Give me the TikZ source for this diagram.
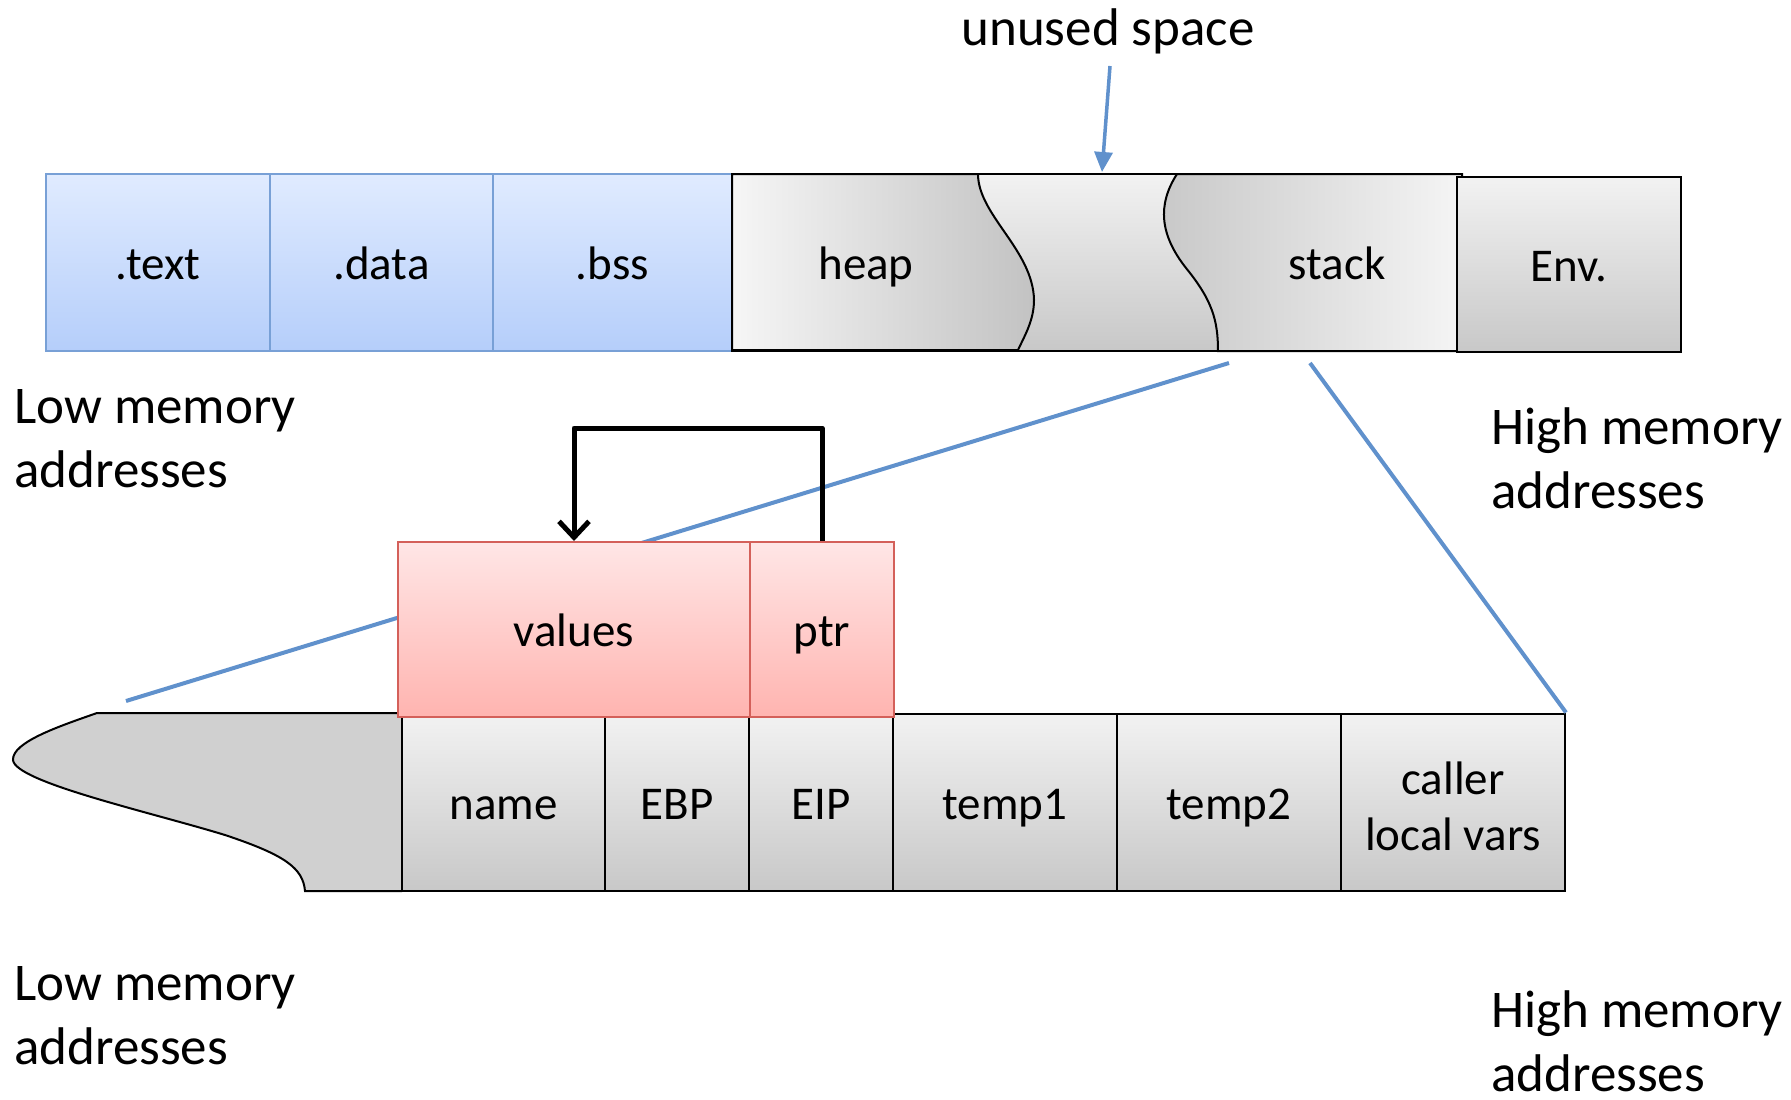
\documentclass[tikz,border=0pt]{standalone}
\usepackage{fontspec}
\setmainfont{Carlito}
\usetikzlibrary{arrows.meta}

\definecolor{blueT}{RGB}{224,235,255}
\definecolor{blueB}{RGB}{181,206,250}
\definecolor{blueBd}{RGB}{120,160,214}
\definecolor{redT}{RGB}{255,230,230}
\definecolor{redB}{RGB}{255,180,176}
\definecolor{redBd}{RGB}{212,96,90}
\definecolor{grayT}{RGB}{242,242,242}
\definecolor{grayB}{RGB}{200,200,200}
\definecolor{grayM}{RGB}{208,208,208}
\definecolor{zoomblue}{RGB}{96,145,204}

\begin{document}
\begin{tikzpicture}[x=1pt,y=-1pt,
  lbl/.style={font=\fontsize{53}{64}\selectfont, align=left, anchor=base west, inner sep=0pt},
  boxtxt/.style={font=\fontsize{47}{56}\selectfont, inner sep=0pt, text height=42pt, text depth=8pt},
  seg/.style={rectangle, inner sep=0pt, minimum height=177pt, font=\fontsize{47}{56}\selectfont, text height=42pt, text depth=8pt},
  blueseg/.style={seg, draw=blueBd, line width=1.5pt, top color=blueT, bottom color=blueB},
  grayseg/.style={seg, draw=black, line width=2pt, top color=grayT, bottom color=grayB},
  redseg/.style={seg, minimum height=175pt, draw=redBd, line width=2pt, top color=redT, bottom color=redB},
  zoomline/.style={draw=zoomblue, line width=4pt},
  ptrarrow/.style={draw=black, line width=5pt, line join=round, -{Straight Barb[length=16pt,width=30pt,line width=5pt]}}
]
\useasboundingbox (0,0) rectangle (1791,1100);

% ---- process memory layout, top row ----
\node[blueseg, minimum width=224pt] (text) at (158,262.5) {.text};
\node[blueseg, minimum width=223pt] (data) at (381.5,262.5) {.data};
\node[blueseg, minimum width=239pt] (bss)  at (612.5,262.5) {.bss};

% unused space between heap and stack
\shade[top color=grayT, bottom color=grayB] (732,174) rectangle (1462,350);
% heap grows to the right
\shade[left color=grayT!70!white, right color=grayB!110!white, draw=black, line width=2pt]
  (732,174) -- (978,174)
  .. controls (978,215) and (1033,250) .. (1034,300)
  .. controls (1034,320) and (1025,335) .. (1018,350)
  -- (732,350) -- cycle;
% stack grows to the left
\shade[left color=grayB, right color=grayT!80!white, draw=black, line width=2pt]
  (1462,174) -- (1177,174)
  .. controls (1157,205) and (1160,235) .. (1186,268)
  .. controls (1212,300) and (1218,320) .. (1218,351)
  -- (1462,351) -- cycle;
\draw[black, line width=2pt] (732,174) rectangle (1462,351);
\node[boxtxt] (heap) at (866,262) {heap};
\node[boxtxt] (stack) at (1337,262) {stack};
\node[grayseg, minimum width=224pt, minimum height=175pt] (env) at (1569,264.5) {Env.};

% unused space label and pointer
\node[font=\fontsize{53}{64}\selectfont, inner sep=0pt] (unused) at (1108,31) {unused space};
\coordinate (unusedtip) at (1102,172);
\draw[zoomblue, line width=3.5pt, -{Triangle[length=20pt,width=18pt]}] (1110,66) -- (unusedtip);

% address labels
\node[lbl] (lowtop) at (14,487) {Low memory\\addresses};
\node[lbl] (hightop) at (1491,508) {High memory\\addresses};
\node[lbl] (lowbot) at (14,1064) {Low memory\\addresses};
\node[lbl] (highbot) at (1491,1091) {High memory\\addresses};

% ---- stack frame detail, bottom row ----
\filldraw[fill=grayM, draw=black, line width=2pt]
  (402,713) -- (97,713)
  .. controls (60,726) and (12,742) .. (13,760)
  .. controls (15,782) and (150,812) .. (225,835)
  .. controls (285,855) and (303,868) .. (305,891)
  -- (402,891);
\node[grayseg, minimum width=203pt] (name)   at (503.5,802) {name};
\node[grayseg, minimum width=144pt] (ebp)    at (677,802) {EBP};
\node[grayseg, minimum width=144pt] (eip)    at (821,802) {EIP};
\node[grayseg, minimum width=224pt] (temp1)  at (1005,802) {temp1};
\node[grayseg, minimum width=224pt] (temp2)  at (1229,802) {temp2};
\node[grayseg, minimum width=224pt, text height=, text depth=] (caller) at (1453,802) {};
\node[font=\fontsize{47}{56}\selectfont, align=center, inner sep=0pt] (callertxt) at (1453,806) {caller\\local vars};

% zoom lines from the stack region to the frame
\coordinate (zl1a) at (1229,363);
\coordinate (zl1b) at (126,701);
\coordinate (zl2a) at (1310,363);
\draw[zoomline] (zl1a) -- (zl1b);
\draw[zoomline] (zl2a) -- (caller.north east);

% overflowing buffer
\node[redseg, minimum width=352pt] (values) at (574,629.5) {values};
\node[redseg, minimum width=144pt] (ptr)    at (822,629.5) {ptr};

\draw[ptrarrow] (ptr.north) -- ++(0,-113) -| (values.north);
\end{tikzpicture}
\end{document}
